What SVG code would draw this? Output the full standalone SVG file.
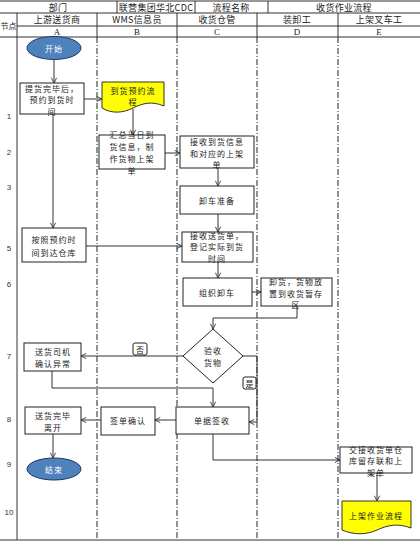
<svg xmlns="http://www.w3.org/2000/svg" width="420" height="544" viewBox="0 0 420 544">
<defs>
<marker id="ar" viewBox="0 0 8 8" refX="7" refY="4" markerWidth="7" markerHeight="7" orient="auto" markerUnits="userSpaceOnUse">
<path d="M1,1 L7,4 L1,7" fill="none" stroke="#333" stroke-width="1"/>
</marker>
<style>
.hd{font-family:"Noto Sans CJK SC","Noto Sans",sans-serif;font-size:9px;fill:#222;text-anchor:middle;dominant-baseline:central;letter-spacing:0.3px}
.ab{font-family:"Liberation Serif",serif;font-size:9px;fill:#222;text-anchor:middle;dominant-baseline:central}
.num{font-family:"Liberation Sans",sans-serif;font-size:8px;fill:#333;text-anchor:middle;dominant-baseline:central}
.t{font-family:"Noto Sans CJK SC","Noto Sans",sans-serif;font-size:8px;fill:#222;text-anchor:middle;dominant-baseline:central;letter-spacing:1px}
.box{fill:#fff;stroke:#222;stroke-width:1}
.doc{fill:#ffff00;stroke:#333;stroke-width:1}
.ell{fill:#4f81bd;stroke:#1f3a63;stroke-width:1}
.grid{stroke:#333;stroke-width:1;fill:none}
.lane{stroke:#222;stroke-width:1;stroke-dasharray:6,2,1,2;fill:none}
.c{fill:none;stroke:#333;stroke-width:1}
.ca{fill:none;stroke:#333;stroke-width:1;marker-end:url(#ar)}
.lbl{fill:#fff;stroke:#222;stroke-width:1}
</style>
</defs>
<rect width="420" height="544" fill="#fff"/>

<g id="header">
<line class="grid" x1="0" y1="1" x2="420" y2="1"/>
<line class="grid" x1="0" y1="13" x2="420" y2="13"/>
<line class="grid" x1="17" y1="26" x2="420" y2="26"/>
<line class="grid" x1="0" y1="37" x2="420" y2="37"/>
<line class="grid" x1="117" y1="1" x2="117" y2="13"/>
<line class="grid" x1="195" y1="1" x2="195" y2="13"/>
<line class="grid" x1="268" y1="1" x2="268" y2="13"/>
<line class="grid" x1="17" y1="13" x2="17" y2="37"/>
<line class="grid" x1="97" y1="13" x2="97" y2="37"/>
<line class="grid" x1="177" y1="13" x2="177" y2="37"/>
<line class="grid" x1="257" y1="13" x2="257" y2="37"/>
<line class="grid" x1="338" y1="13" x2="338" y2="37"/>
<text class="hd" x="58" y="7">部门</text>
<text class="hd" x="156" y="7">联营集团华北CDC</text>
<text class="hd" x="231" y="7">流程名称</text>
<text class="hd" x="344" y="7">收货作业流程</text>
<text class="hd" x="8.5" y="25" style="font-size:8px;letter-spacing:0">节点</text>
<text class="hd" x="57" y="19.5">上游送货商</text>
<text class="hd" x="137" y="19.5">WMS信息员</text>
<text class="hd" x="217" y="19.5">收货仓管</text>
<text class="hd" x="297" y="19.5">装卸工</text>
<text class="hd" x="379" y="19.5">上架叉车工</text>
<text class="ab" x="57" y="32">A</text>
<text class="ab" x="137" y="32">B</text>
<text class="ab" x="217" y="32">C</text>
<text class="ab" x="297" y="32">D</text>
<text class="ab" x="379" y="32">E</text>
</g>

<g id="lanes">
<line class="grid" x1="17" y1="37" x2="17" y2="540"/>
<line class="lane" x1="97" y1="37" x2="97" y2="540"/>
<line class="lane" x1="177" y1="37" x2="177" y2="540"/>
<line class="lane" x1="257" y1="37" x2="257" y2="540"/>
<line class="lane" x1="338" y1="37" x2="338" y2="540"/>
<line class="grid" x1="0" y1="540" x2="420" y2="540"/>
</g>

<g id="rownums">
<text class="num" x="9" y="116">1</text>
<text class="num" x="9" y="152">2</text>
<text class="num" x="9" y="187">3</text>
<text class="num" x="9" y="248">5</text>
<text class="num" x="9" y="284">6</text>
<text class="num" x="9" y="356">7</text>
<text class="num" x="9" y="419">8</text>
<text class="num" x="9" y="464">9</text>
<text class="num" x="9" y="512">10</text>
</g>

<g id="connectors">
<path class="ca" d="M54,60 V83"/>
<path class="ca" d="M84,99 H102"/>
<path class="ca" d="M133,109 V135"/>
<path class="ca" d="M165,153 H180"/>
<path class="ca" d="M53,114 V228"/>
<path class="ca" d="M218,168 V186"/>
<path class="ca" d="M218,214 V232"/>
<path class="ca" d="M86,246 H182"/>
<path class="ca" d="M218,262 V278"/>
<path class="ca" d="M252,292 H261"/>
<path class="ca" d="M297,306 V318 H213 V329"/>
<path class="ca" d="M183,356 H81"/>
<path class="ca" d="M52,371 V388 H213 V407"/>
<path class="ca" d="M243,356 H257 V422 H249"/>
<path class="ca" d="M176,420 H155"/>
<path class="ca" d="M101,420 H81"/>
<path class="ca" d="M53,434 V458"/>
<path class="ca" d="M213,434 V460 H340"/>
<path class="ca" d="M377,473 V501"/>
<g id="label-no"><rect class="lbl" x="133" y="343" width="14" height="12" rx="2"/><text class="t" x="140" y="349" style="letter-spacing:0">否</text></g>
<g id="label-yes"><rect class="lbl" x="243" y="377" width="13" height="12" rx="2"/><text class="t" x="249.5" y="383" style="letter-spacing:0">是</text></g>
</g>

<g id="start"><ellipse class="ell" cx="54" cy="48" rx="27" ry="11.5"/><text class="t" x="54" y="48" style="fill:#fff">开始</text></g>

<g id="a1"><rect class="box" x="20" y="83" width="64" height="31"/>
<text class="t" x="52" y="88">提货完毕后，</text><text class="t" x="52" y="99.5">预约到货时</text><text class="t" x="52" y="111">间</text></g>

<g id="b1"><path class="doc" d="M102,82 H164 V106 C152,101 143,103 133,108 C123,113 112,114 102,108 Z"/>
<text class="t" x="133" y="90">到货预约流</text><text class="t" x="133" y="101.5">程</text></g>

<g id="b2"><rect class="box" x="99" y="135" width="66" height="34"/>
<text class="t" x="132" y="134">汇总当日到</text><text class="t" x="132" y="146">货信息，制</text><text class="t" x="132" y="158">作货物上架</text><text class="t" x="132" y="170">单</text></g>

<g id="c2"><rect class="box" x="180" y="136" width="74" height="32"/>
<text class="t" x="217" y="141">接收到货信息</text><text class="t" x="217" y="153">和对应的上架</text><text class="t" x="217" y="164">单</text></g>

<g id="c3"><rect class="box" x="180" y="186" width="74" height="28"/>
<text class="t" x="217" y="200">卸车准备</text></g>

<g id="a5"><rect class="box" x="22" y="228" width="64" height="34"/>
<text class="t" x="54" y="239">按照预约时</text><text class="t" x="54" y="252">间到达仓库</text></g>

<g id="c5"><rect class="box" x="182" y="232" width="71" height="30"/>
<text class="t" x="217" y="235">接收送货单，</text><text class="t" x="217" y="246.5">登记实际到货</text><text class="t" x="217" y="258">时间</text></g>

<g id="c6"><rect class="box" x="183" y="278" width="69" height="28"/>
<text class="t" x="217" y="292">组织卸车</text></g>

<g id="d6"><rect class="box" x="261" y="278" width="71" height="28"/>
<text class="t" x="296" y="281">卸货，货物放</text><text class="t" x="296" y="293">置到收货暂存</text><text class="t" x="296" y="304">区</text></g>

<g id="c7"><path class="box" d="M213,329 L243,356 L213,383 L183,356 Z"/>
<text class="t" x="213" y="350">验收</text><text class="t" x="213" y="362">货物</text></g>

<g id="a7"><rect class="box" x="24" y="343" width="57" height="28"/>
<text class="t" x="53" y="351">送货司机</text><text class="t" x="53" y="363">确认异常</text></g>

<g id="c8"><rect class="box" x="176" y="407" width="73" height="27"/>
<text class="t" x="212" y="420">单据签收</text></g>

<g id="b8"><rect class="box" x="101" y="407" width="54" height="28"/>
<text class="t" x="128" y="420">签单确认</text></g>

<g id="a8"><rect class="box" x="25" y="407" width="56" height="27"/>
<text class="t" x="53" y="415">送货完毕</text><text class="t" x="53" y="427">离开</text></g>

<g id="end"><ellipse class="ell" cx="54" cy="469" rx="27" ry="11"/><text class="t" x="54" y="469" style="fill:#fff">结束</text></g>

<g id="e9"><rect class="box" x="340" y="447" width="72" height="26"/>
<text class="t" x="376" y="449">交接收货单仓</text><text class="t" x="376" y="460.5">库留存联和上</text><text class="t" x="376" y="472">架单</text></g>

<g id="e10"><path class="doc" d="M342,501 H411 V528 C398,523 388,525 377,530 C366,535 354,535 342,530 Z"/>
<text class="t" x="376" y="515">上架作业流程</text></g>
</svg>
